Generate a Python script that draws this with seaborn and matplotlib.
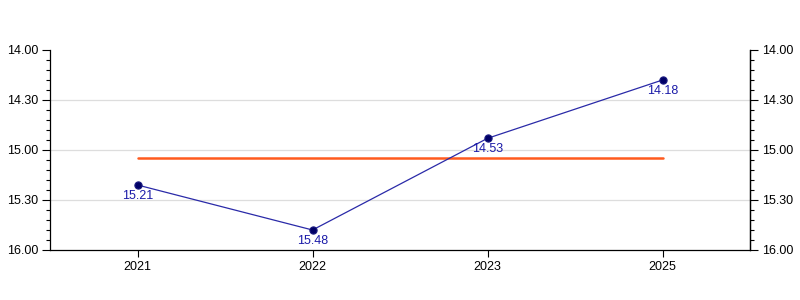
import matplotlib
matplotlib.use("Agg")
import matplotlib.pyplot as plt
import seaborn as sns
import numpy as np
import pandas as pd
from matplotlib.ticker import MultipleLocator, FuncFormatter

years = ["2021", "2022", "2023", "2025"]
times = ["15.21", "15.48", "14.53", "14.18"]

def to_hours(s):
    h, m = s.split(".")
    return int(h) + int(m) / 60.0

values = [to_hours(t) for t in times]
mean_val = float(np.mean(values))

df = pd.DataFrame({"year": years, "value": values})

sns.set_style("white")
plt.rcParams["font.family"] = ["Liberation Sans", "DejaVu Sans"]
plt.rcParams["font.size"] = 9
plt.rcParams["text.color"] = "black"

FS = 9

fig = plt.figure(figsize=(8, 3), dpi=100)
ax = fig.add_axes([0.0625, 1 - 250 / 300, 0.875, 200 / 300])

sns.lineplot(data=df, x="year", y="value", ax=ax, color="#2a2aa8", linewidth=0.9,
             marker="o", markersize=5.2, markerfacecolor="#000066",
             markeredgecolor="#1a1a80", markeredgewidth=0.8, sort=False, zorder=3)
ax.plot([years[0], years[-1]], [mean_val, mean_val], color="#ff5a1e", linewidth=1.8, zorder=2)

for y, v, t in zip(years, values, times):
    ax.annotate(t, (y, v), xytext=(0, -3.5), textcoords="offset points",
                ha="center", va="top", color="#1a1aa8", fontsize=FS)

ax.set_xlim(-0.5, len(years) - 0.5)
ax.set_ylim(16, 14)

def fmt(v, pos):
    h = int(np.floor(v + 1e-9))
    m = int(round((v - h) * 60))
    if m == 60:
        h += 1
        m = 0
    return f"{h}.{m:02d}"

ax.yaxis.set_major_locator(MultipleLocator(0.5))
ax.yaxis.set_minor_locator(MultipleLocator(0.1))
ax.yaxis.set_major_formatter(FuncFormatter(fmt))

ax.grid(False)
for gy in [14.5, 15.0, 15.5]:
    ax.axhline(gy, color="#dddddd", linewidth=0.9, zorder=0)
ax.set_xlabel("")
ax.set_ylabel("")
ax.spines["top"].set_visible(False)
for s in ("left", "right", "bottom"):
    ax.spines[s].set_color("black")
    ax.spines[s].set_linewidth(0.9)
ax.tick_params(axis="y", which="major", direction="out", length=6, width=0.8, color="black",
               labelcolor="black", labelsize=FS, pad=2.5)
ax.tick_params(axis="y", which="minor", direction="out", length=3, width=0.8, color="black", left=True)
ax.tick_params(axis="x", which="major", direction="out", length=5, width=0.8, color="black",
               labelcolor="black", labelsize=FS, bottom=True, pad=3)

ax2 = ax.twinx()
ax2.set_ylim(ax.get_ylim())
ax2.yaxis.set_major_locator(MultipleLocator(0.5))
ax2.yaxis.set_minor_locator(MultipleLocator(0.1))
ax2.yaxis.set_major_formatter(FuncFormatter(fmt))
ax2.tick_params(axis="y", which="major", direction="out", length=6, width=0.8, color="black",
                labelcolor="black", labelsize=FS, pad=2.5)
ax2.tick_params(axis="y", which="minor", direction="out", length=3, width=0.8, color="black", right=True)
for s in ("top", "left", "bottom"):
    ax2.spines[s].set_visible(False)
ax2.spines["right"].set_color("black")
ax2.spines["right"].set_linewidth(0.9)
ax2.grid(False)

fig.savefig("out.png", dpi=100)
